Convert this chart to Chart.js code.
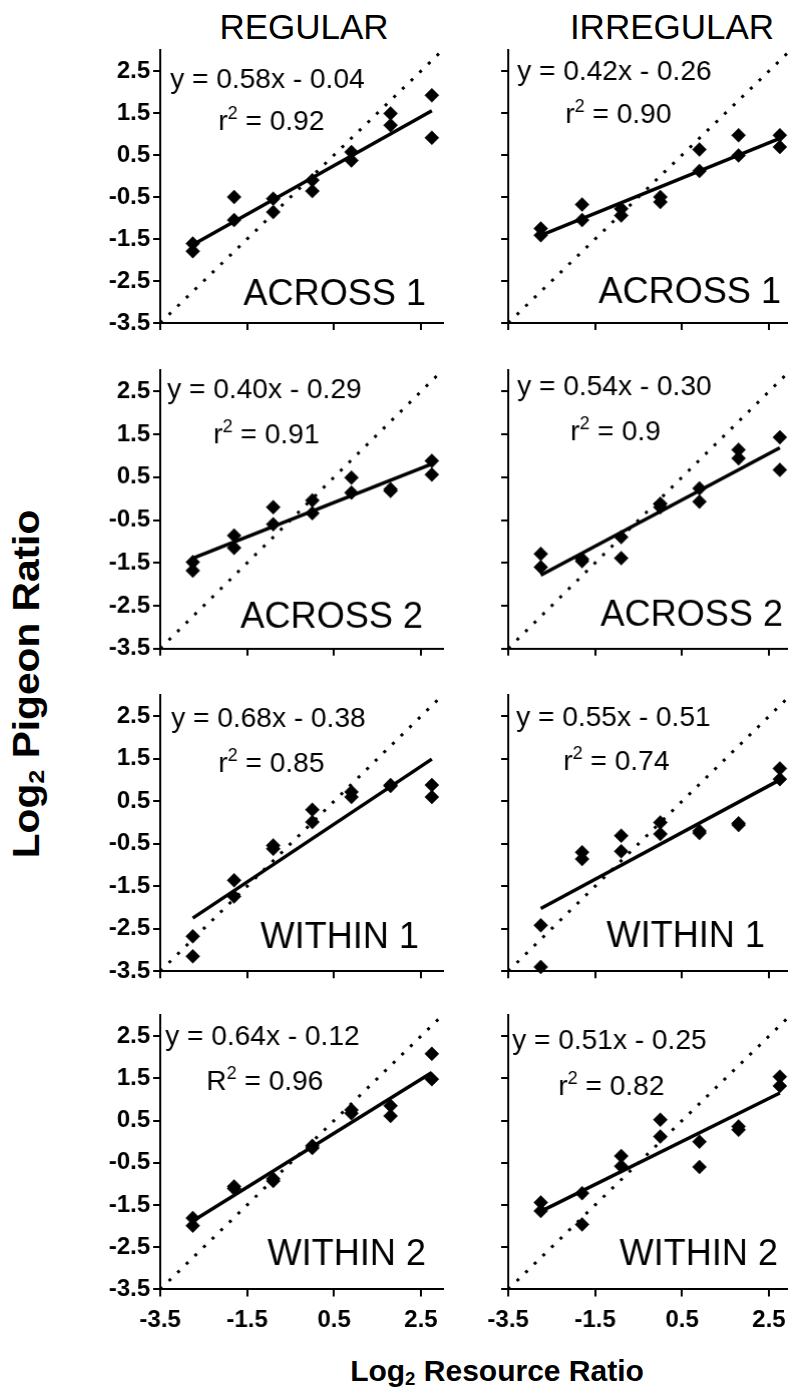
<!DOCTYPE html>
<html>
<head>
<meta charset="utf-8">
<script src="https://cdn.jsdelivr.net/npm/chart.js"></script>
<style>
  html, body { margin: 0; padding: 0; background: #fff; overflow: hidden; }
  body { width: 788px; height: 1399px; position: relative; font-family: "Liberation Sans", Arial, sans-serif; color: #000; }
  .panel { position: absolute; }
  .colTitle { position: absolute; font-size: 35px; line-height: 1; white-space: nowrap; transform: translateX(-50%); }
  .axisTitle { position: absolute; font-weight: bold; line-height: 1; white-space: nowrap; }
  .axisTitle sub { font-size: 62%; vertical-align: -0.22em; line-height: 0; }
</style>
</head>
<body>
<div class="colTitle" style="left:304px; top:9px;">REGULAR</div>
<div class="colTitle" style="left:672px; top:9px;">IRREGULAR</div>
<div class="axisTitle" style="font-size:36px; left:27px; top:684px; transform:translate(-50%,-50%) rotate(-90deg) scaleX(1.13);">Log<sub>2</sub> Pigeon Ratio</div>
<div class="axisTitle" style="font-size:30px; left:497px; top:1356px; transform:translateX(-50%);">Log<sub>2</sub> Resource Ratio</div>

<script>
// Daten: Log2 Ressourcen-Verhältnis (x) und je zwei Werte pro x
const xRatio = [-2.75, -1.8, -0.9, 0, 0.9, 1.8, 2.75];

const regAcross1 = [[-1.61, -1.79], [-0.50, -1.05], [-0.54, -0.86], [-0.10, -0.36], [0.57, 0.37], [1.49, 1.21], [1.92, 0.91]];
const irrAcross1 = [[-1.25, -1.41], [-0.68, -1.05], [-0.78, -0.94], [-0.50, -0.62], [0.63, 0.12], [0.97, 0.49], [0.97, 0.69]];
const regAcross2 = [[-1.48, -1.68], [-0.86, -1.15], [-0.20, -0.60], [-0.04, -0.34], [0.49, 0.14], [0.22, 0.18], [0.88, 0.56]];
const irrAcross2 = [[-1.29, -1.60], [-1.41, -1.46], [-0.90, -1.39], [-0.12, -0.20], [0.24, -0.07], [1.14, 0.94], [1.43, 0.67]];
const regWithin1 = [[-2.68, -3.15], [-1.36, -1.74], [-0.54, -0.62], [0.30, 0.01], [0.72, 0.60], [0.88, 0.86], [0.88, 0.60]];
const irrWithin1 = [[-2.42, -3.40], [-0.70, -0.86], [-0.31, -0.68], [0.00, -0.27], [-0.20, -0.25], [-0.02, -0.06], [1.27, 1.02]];
const regWithin2 = [[-1.81, -1.99], [-1.06, -1.11], [-0.88, -0.93], [-0.10, -0.15], [0.75, 0.67], [0.85, 0.61], [2.08, 1.48]];
const irrWithin2 = [[-1.44, -1.64], [-1.22, -1.96], [-0.34, -0.58], [0.52, 0.12], [0.00, -0.60], [0.36, 0.28], [1.54, 1.32]];

const panelData = [regAcross1, irrAcross1, regAcross2, irrAcross2, regWithin1, irrWithin1, regWithin2, irrWithin2];
const panelNames = ['ACROSS 1', 'ACROSS 1', 'ACROSS 2', 'ACROSS 2', 'WITHIN 1', 'WITHIN 1', 'WITHIN 2', 'WITHIN 2'];

// Regressionsgeraden (aus den Gleichungen im Bild)
const fitSlope = [0.58, 0.42, 0.40, 0.54, 0.68, 0.55, 0.64, 0.51];
const fitIntercept = [-0.04, -0.26, -0.29, -0.30, -0.38, -0.51, -0.12, -0.25];
const fitR2 = ['0.92', '0.90', '0.91', '0.9', '0.85', '0.74', '0.96', '0.82'];
const fitLetter = ['r', 'r', 'r', 'r', 'r', 'r', 'R', 'r'];

// Achsen
const axisRange = [-3.5, 3.0];
const xTicks = [-3.5, -1.5, 0.5, 2.5];
const yTicks = [-3.5, -2.5, -1.5, -0.5, 0.5, 1.5, 2.5];

// Layout (Pixel)
const colAxisX = [160, 508];
const rowTop = [49.7, 370.3, 694.8, 1014.9];
const rowBottom = [322.7, 648, 971, 1289.3];
const PLOT_W = 281.7;
const Y_AXIS_W = 70;
const X_AXIS_H = 50;
const PAD_TOP = 12;
const PAD_RIGHT = 10;
// [eqDx, eqDy, r2Dx, r2Dy, labelRight, labelBaseline] relativ zur Zeichenfläche
const textPos = [
  [10, 38, 58, 80, 265, 255],
  [9, 30, 57, 73, 272, 253],
  [7, 28, 53, 73, 262, 257],
  [9, 25, 62, 70, 274, 255],
  [11, 32, 58, 77, 258, 253],
  [8, 31, 55, 75, 256, 252],
  [5, 30, 46, 75, 265, 250],
  [4, 34, 50, 80, 269, 250]
];

const FONT = '"Liberation Sans", Arial, sans-serif';

// Plugin für Gleichung, r² und Bedingung
const panelText = {
  id: 'panelText',
  afterDraw(chart, args, opts) {
    const i = opts.index;
    const ctx = chart.ctx;
    const a = chart.chartArea;
    const p = textPos[i];
    ctx.save();
    ctx.fillStyle = '#000';
    ctx.textBaseline = 'alphabetic';
    ctx.textAlign = 'left';
    ctx.font = '28px ' + FONT;
    const eq = 'y = ' + fitSlope[i].toFixed(2) + 'x - ' + Math.abs(fitIntercept[i]).toFixed(2);
    ctx.fillText(eq, a.left + p[0], a.top + p[1]);

    let x = a.left + p[2];
    const y = a.top + p[3];
    ctx.fillText(fitLetter[i], x, y);
    x += ctx.measureText(fitLetter[i]).width;
    ctx.font = '18px ' + FONT;
    ctx.fillText('2', x, y - 11);
    x += ctx.measureText('2').width;
    ctx.font = '28px ' + FONT;
    ctx.fillText(' = ' + fitR2[i], x, y);

    ctx.font = '36px ' + FONT;
    ctx.textAlign = 'right';
    ctx.fillText(panelNames[i], a.left + p[4], a.top + p[5]);
    ctx.restore();
  }
};

function makePanel(i) {
  const row = Math.floor(i / 2);
  const col = i % 2;
  const plotH = rowBottom[row] - rowTop[row];

  const box = document.createElement('div');
  box.className = 'panel';
  box.style.left = (colAxisX[col] - Y_AXIS_W) + 'px';
  box.style.top = (rowTop[row] - PAD_TOP) + 'px';
  box.style.width = (Y_AXIS_W + PLOT_W + PAD_RIGHT) + 'px';
  box.style.height = (PAD_TOP + plotH + X_AXIS_H) + 'px';
  const canvas = document.createElement('canvas');
  box.appendChild(canvas);
  document.body.appendChild(box);

  const points = [];
  xRatio.forEach((xv, k) => {
    points.push({ x: xv, y: panelData[i][k][0] });
    points.push({ x: xv, y: panelData[i][k][1] });
  });
  const xFirst = xRatio[0];
  const xLast = xRatio[xRatio.length - 1];
  const fitLine = [
    { x: xFirst, y: fitSlope[i] * xFirst + fitIntercept[i] },
    { x: xLast, y: fitSlope[i] * xLast + fitIntercept[i] }
  ];
  const identity = axisRange.map(v => ({ x: v, y: v }));

  const showX = row === 3;
  const showY = col === 0;
  const tickFont = { family: FONT, size: 24, weight: 'bold' };

  new Chart(canvas, {
    type: 'scatter',
    data: {
      datasets: [
        {
          data: points,
          pointStyle: 'rectRot',
          pointRadius: 7,
          pointBackgroundColor: '#000',
          pointBorderColor: '#000',
          pointBorderWidth: 0.5,
          showLine: false,
          clip: false
        },
        {
          data: fitLine,
          showLine: true,
          borderColor: '#000',
          borderWidth: 3.5,
          pointRadius: 0
        },
        {
          data: identity,
          showLine: true,
          borderColor: '#000',
          borderWidth: 3,
          borderDash: [3, 9],
          pointRadius: 0
        }
      ]
    },
    options: {
      responsive: true,
      maintainAspectRatio: false,
      animation: false,
      events: [],
      layout: { padding: { top: PAD_TOP, right: PAD_RIGHT, left: 0, bottom: 0 } },
      plugins: {
        legend: { display: false },
        tooltip: { enabled: false },
        panelText: { index: i }
      },
      scales: {
        x: {
          type: 'linear',
          min: axisRange[0],
          max: axisRange[1],
          afterBuildTicks: s => { s.ticks = xTicks.map(v => ({ value: v })); },
          afterFit: s => { s.height = X_AXIS_H; s.paddingLeft = 0; s.paddingRight = 0; },
          ticks: {
            color: showX ? '#000' : 'rgba(0,0,0,0)',
            font: tickFont,
            padding: 10,
            maxRotation: 0,
            autoSkip: false,
            callback: v => Number(v).toFixed(1)
          },
          grid: { display: true, drawOnChartArea: false, drawTicks: true, tickLength: 7, color: '#000', lineWidth: 2 },
          border: { display: true, color: '#000', width: 2 }
        },
        y: {
          type: 'linear',
          min: axisRange[0],
          max: axisRange[1],
          afterBuildTicks: s => { s.ticks = yTicks.map(v => ({ value: v })); },
          afterFit: s => { s.width = Y_AXIS_W; s.paddingTop = 0; s.paddingBottom = 0; },
          ticks: {
            color: showY ? '#000' : 'rgba(0,0,0,0)',
            font: tickFont,
            padding: 3,
            autoSkip: false,
            callback: v => Number(v).toFixed(1)
          },
          grid: { display: true, drawOnChartArea: false, drawTicks: true, tickLength: 7, color: '#000', lineWidth: 2 },
          border: { display: true, color: '#000', width: 2 }
        }
      }
    },
    plugins: [panelText]
  });
}

document.addEventListener('DOMContentLoaded', () => {
  for (let i = 0; i < panelData.length; i++) {
    makePanel(i);
  }
});
</script>
</body>
</html>
